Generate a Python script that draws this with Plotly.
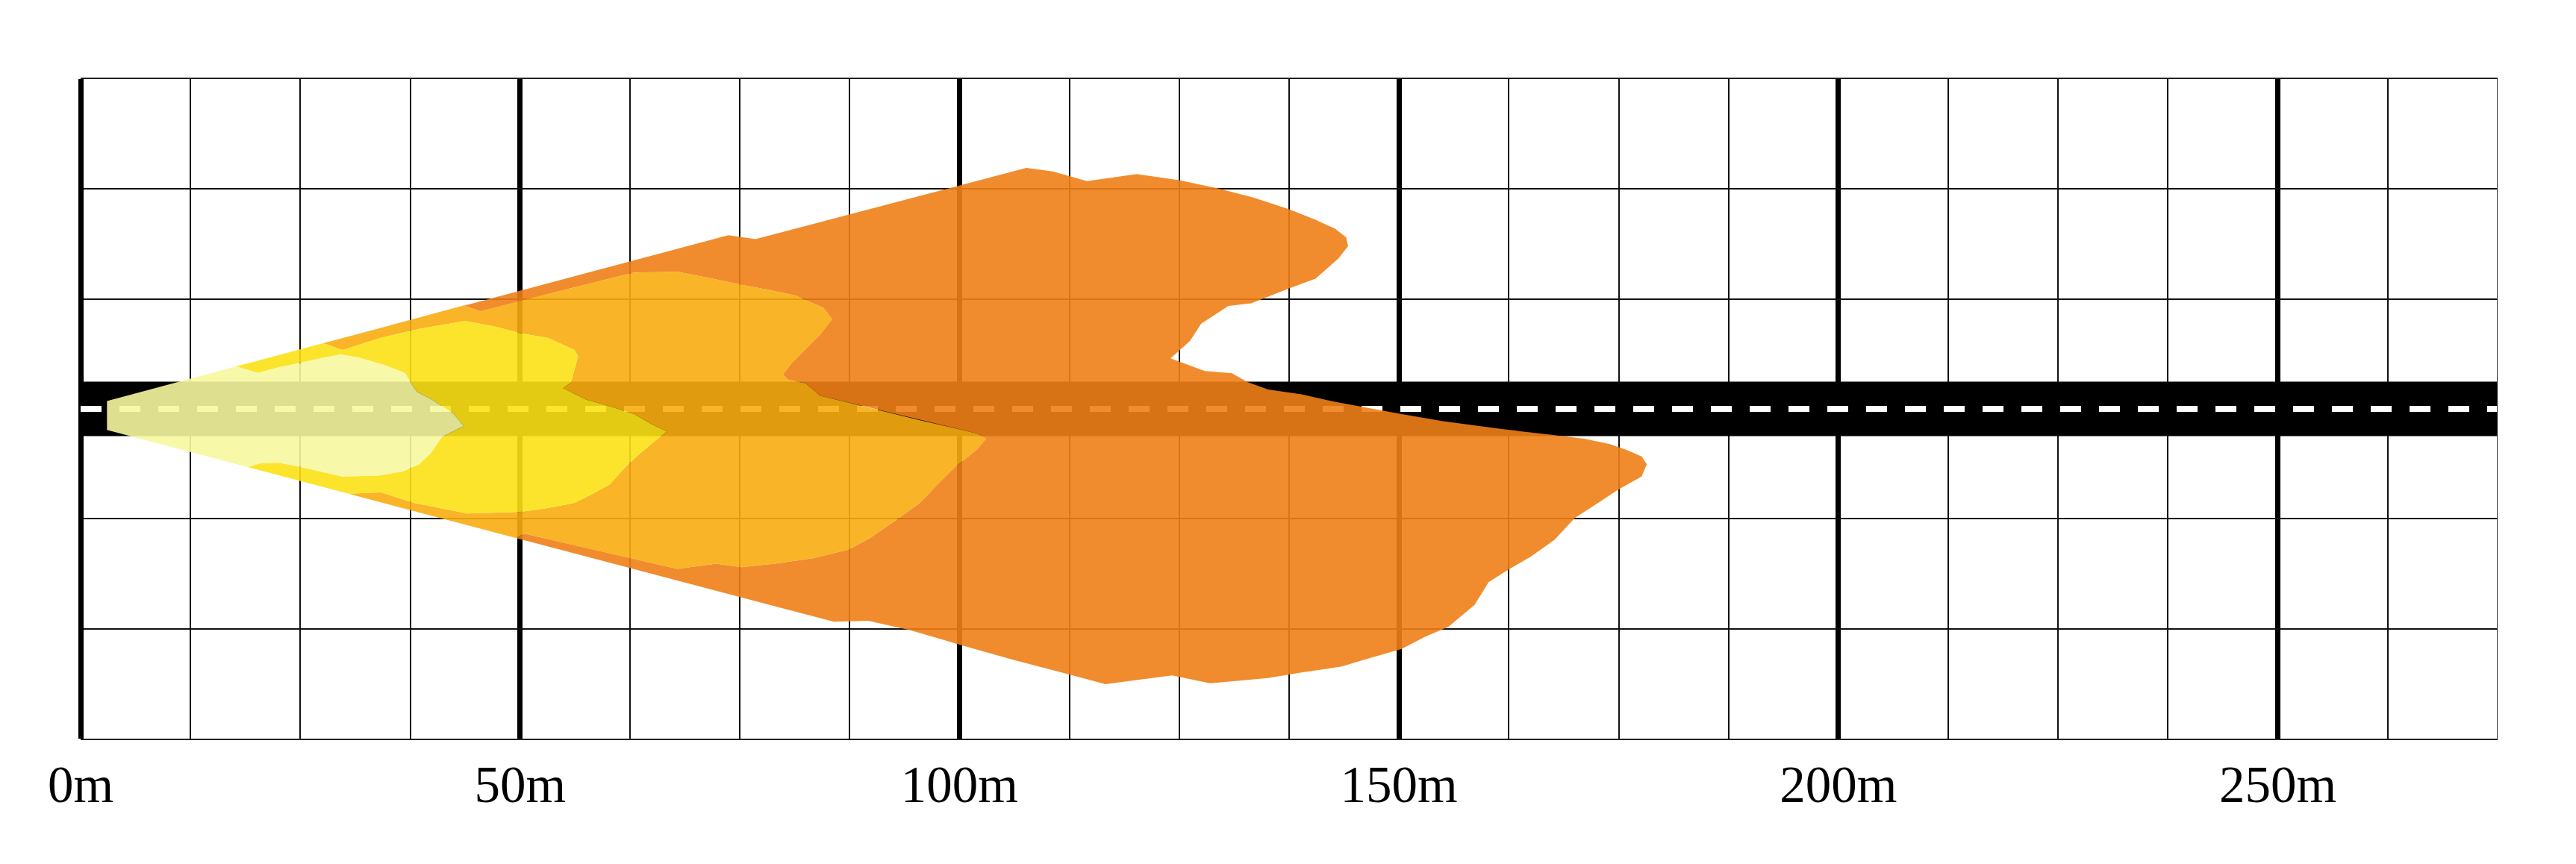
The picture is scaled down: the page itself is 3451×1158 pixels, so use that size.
import plotly.graph_objects as go

# ---------------- data (metres) ----------------
X_MAX = 275
Y_HALF = 37.5
ROAD_HALF_WIDTH = 3.1
X_TICKS = [0, 50, 100, 150, 200, 250]
X_TICK_TEXT = ["0m", "50m", "100m", "150m", "200m", "250m"]

# shared straight beam edges (from the source outwards)
TOP_EDGE_X = [3.0, 17.7, 27.6, 43.6, 73.7]
TOP_EDGE_Y = [0.9, 4.82, 7.47, 11.74, 19.75]
BOT_EDGE_X = [3.0, 19.0, 30.5, 49.5, 85.7]
BOT_EDGE_Y = [-2.4, -6.62, -9.66, -14.68, -24.2]

# palest zone (nearest)
PALE_X = [20.2, 22.5, 24.9, 27.5, 29.6, 31.8, 34.5, 36.9, 37.6, 38.3, 39.9, 42.4, 43.6,
          42.4, 41.1, 39.8, 38.5, 36.7, 33.8, 29.8, 27.7, 25.0, 22.5, 20.5]
PALE_Y = [4.1, 4.7, 5.2, 5.8, 6.2, 5.8, 5.0, 4.1, 2.9, 1.9, 1.1, -0.5, -1.95,
          -2.55, -3.2, -5.1, -6.3, -7.1, -7.6, -7.7, -7.2, -6.6, -6.1, -6.2]

# yellow zone
YEL_X = [29.8, 34.1, 38.5, 43.7, 47.0, 50.1, 53.2, 56.2, 56.6, 56.2, 55.8, 54.9, 57.5,
         60.2, 63.0, 65.0, 66.7, 65.4, 63.5, 62.0, 60.2, 58.0, 56.2, 53.0, 50.1, 44.0,
         37.9, 34.2]
YEL_Y = [6.7, 8.05, 9.1, 10.0, 9.4, 8.6, 8.05, 6.7, 6.0, 4.5, 3.0, 2.36, 1.05,
         0.3, -0.6, -1.75, -2.56, -3.6, -5.2, -6.6, -8.6, -9.8, -10.7, -11.3, -11.7, -11.9,
         -10.7, -9.5]

# amber zone
AMB_X = [45.5, 50.1, 56.5, 63.0, 67.9, 71.5, 75.2, 78.5, 81.3, 84.5, 85.5, 84.1, 82.1,
         80.9, 79.9, 80.5, 82.5, 84.1, 87.4, 91.4, 95.5, 99.5, 102.0, 103.0, 102.0, 99.5,
         97.5, 95.5, 93.0, 89.8, 87.4, 83.3, 79.0, 75.2, 72.3, 67.9, 63.0, 56.5, 50.5]
AMB_Y = [11.1, 12.3, 13.9, 15.5, 15.6, 14.9, 14.1, 13.5, 12.9, 11.5, 10.2, 8.4, 6.4,
         5.2, 3.9, 3.3, 2.9, 1.5, 0.7, -0.3, -1.3, -2.2, -2.8, -3.4, -4.6, -6.6,
         -8.6, -10.7, -12.5, -14.7, -16.0, -17.0, -17.6, -18.0, -17.6, -18.2, -17.1, -15.6, -14.2]

# orange zone (farthest)
ORA_X = [76.8, 87.4, 100.0, 104.0, 107.6, 110.6, 114.5, 120.2, 125.0, 129.3, 133.5, 137.5,
         140.5, 142.7, 144.0, 144.2, 143.1, 140.5, 137.5, 133.2, 130.6, 127.5, 126.2, 124.0,
         127.9, 131.0, 132.7, 135.1, 138.9, 142.7, 150.3, 155.0, 161.7, 167.0, 171.1, 174.0,
         176.0, 177.6, 178.2, 177.6, 174.9, 172.5, 170.0, 167.7, 165.0, 162.4, 160.2, 158.6,
         155.6, 153.0, 150.3, 146.1, 143.5, 138.8, 135.1, 130.7, 128.5, 124.2, 116.6, 112.5,
         106.0, 100.0, 94.5, 89.6]
ORA_Y = [19.3, 22.1, 25.4, 26.5, 27.4, 27.0, 25.9, 26.7, 26.0, 25.1, 24.0, 22.7,
         21.5, 20.5, 19.5, 18.5, 17.1, 14.8, 13.7, 12.0, 11.7, 9.7, 7.7, 5.75,
         4.3, 4.06, 3.07, 2.2, 1.65, 0.8, -0.6, -1.4, -2.3, -2.9, -3.4, -4.0,
         -4.7, -5.4, -6.3, -7.7, -9.2, -10.8, -12.4, -14.9, -16.8, -18.3, -19.7, -22.3,
         -24.8, -25.9, -27.3, -28.5, -29.3, -30.0, -30.6, -31.0, -31.2, -30.3, -31.3, -30.2,
         -28.5, -26.8, -25.2, -24.1]

ZONES = [  # (curve x, curve y, number of shared edge points, colour)
    (ORA_X, ORA_Y, 5, "rgba(238,127,23,0.9)"),
    (AMB_X, AMB_Y, 4, "rgba(248,172,17,0.9)"),
    (YEL_X, YEL_Y, 3, "rgba(252,225,22,0.9)"),
    (PALE_X, PALE_Y, 2, "rgba(246,247,159,0.9)"),
]


def polygon(cx, cy, k):
    xs = TOP_EDGE_X[:k] + cx + BOT_EDGE_X[:k][::-1]
    ys = TOP_EDGE_Y[:k] + cy + BOT_EDGE_Y[:k][::-1]
    return xs, ys


polys = [polygon(cx, cy, k) for cx, cy, k, _ in ZONES]

fig = go.Figure()

# road
fig.add_trace(go.Scatter(
    x=[0, X_MAX, X_MAX, 0], y=[-ROAD_HALF_WIDTH, -ROAD_HALF_WIDTH, ROAD_HALF_WIDTH, ROAD_HALF_WIDTH],
    fill="toself", fillcolor="black", mode="lines", line=dict(width=0),
    hoverinfo="skip", showlegend=False))
# centre line
fig.add_trace(go.Scatter(
    x=[0, X_MAX], y=[0, 0], mode="lines",
    line=dict(color="white", width=8, dash="28px,24px"),
    hoverinfo="skip", showlegend=False))

# beam zones as rings (each zone minus the next inner one)
for i, (cx, cy, k, col) in enumerate(ZONES):
    xs, ys = polys[i]
    xs, ys = list(xs), list(ys)
    if i + 1 < len(polys):
        ix, iy = polys[i + 1]
        xs += [None] + ix[::-1]
        ys += [None] + iy[::-1]
    fig.add_trace(go.Scatter(
        x=xs, y=ys, fill="toself", fillcolor=col, mode="lines",
        line=dict(width=0), hoverinfo="skip", showlegend=False))

# the page body has an 8px margin, so the figure is sized to fit inside it
fig.update_layout(
    width=3443, height=1150,
    margin=dict(l=100, r=105, t=98, b=168),
    paper_bgcolor="white", plot_bgcolor="white",
    showlegend=False,
)
fig.update_xaxes(
    range=[0, X_MAX], tickmode="array", tickvals=X_TICKS, ticktext=X_TICK_TEXT,
    showgrid=True, gridcolor="black", gridwidth=6.5,
    zeroline=True, zerolinecolor="black", zerolinewidth=6.5,
    minor=dict(dtick=12.5, tick0=0, showgrid=True, gridcolor="#111111", gridwidth=1.8),
    tickfont=dict(family="Liberation Serif", size=69, color="black"),
    ticks="", ticklabelstandoff=0,
    showline=True, mirror=True, linecolor="#222222", linewidth=1.8,
)
fig.update_yaxes(
    range=[-Y_HALF, Y_HALF], dtick=12.5, tick0=0,
    showgrid=True, gridcolor="#111111", gridwidth=1.8,
    zeroline=False, showticklabels=False, ticks="", showline=False,
)
fig.add_shape(type="line", x0=X_MAX, x1=X_MAX, y0=0, y1=1, xref="x", yref="paper",
              line=dict(color="#222222", width=1.8))

fig.write_html("out.html")
